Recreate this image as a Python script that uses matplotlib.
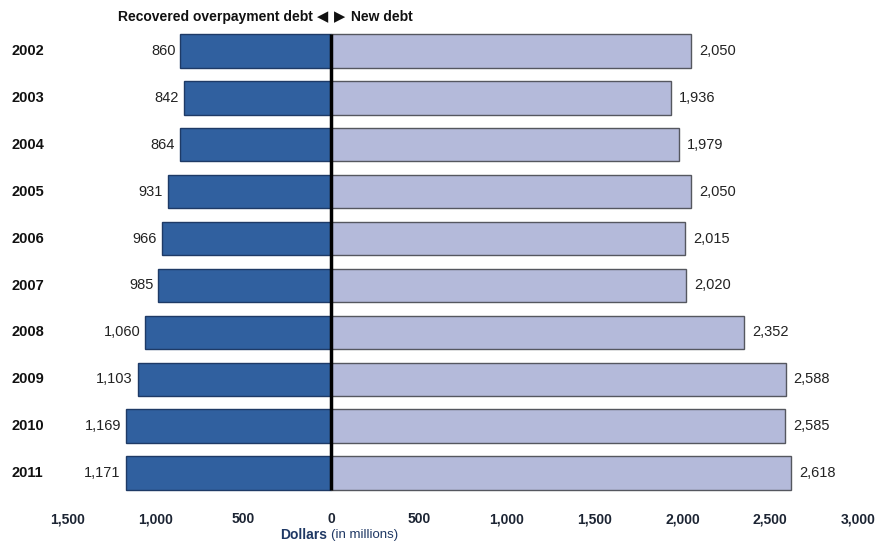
import numpy as np
import matplotlib as mpl
import matplotlib.pyplot as plt

mpl.rcParams['font.family'] = ['Liberation Sans', 'DejaVu Sans']

years = ['2002', '2003', '2004', '2005', '2006', '2007', '2008', '2009', '2010', '2011']
recovered = [860, 842, 864, 931, 966, 985, 1060, 1103, 1169, 1171]
new_debt = [2050, 1936, 1979, 2050, 2015, 2020, 2352, 2588, 2585, 2618]
xticks = [-1500, -1000, -500, 0, 500, 1000, 1500, 2000, 2500, 3000]
xticklabels = ['1,500', '1,000', '500', '0', '500', '1,000', '1,500', '2,000', '2,500', '3,000']

fig = plt.figure(figsize=(8.86, 5.44), dpi=100)
ax = fig.add_axes([68/886, 1-501/544, (858-68)/886, (501-23)/544])

y = np.arange(len(years))
h = 0.71
ax.barh(y, [-v for v in recovered], height=h, color='#30609f', edgecolor='#1e3a66', lw=1)
ax.barh(y, new_debt, height=h, color='#b4bada', edgecolor='#55575f', lw=1)
ax.vlines(0, -0.37, 9.37, color='black', lw=2.5, zorder=5)

for i in range(len(years)):
    ax.text(-recovered[i]-28, y[i], f'{recovered[i]:,}', ha='right', va='center',
            fontsize=10.5, color='#222222')
    ax.text(new_debt[i]+45, y[i], f'{new_debt[i]:,}', ha='left', va='center',
            fontsize=10.5, color='#222222')
    fig.text(12/886, 1-(51+y[i]*46.9)/544, years[i], ha='left', va='center',
             fontsize=10.5, fontweight='bold', color='#111111')

ax.set_xlim(-1500, 3000)
ax.set_ylim(9.6, -0.6)
ax.set_xticks(xticks)
ax.set_xticklabels(xticklabels, fontsize=10, fontweight='bold', color='#1c2433')
ax.set_yticks([])
ax.tick_params(axis='x', length=0, pad=8)
for s in ax.spines.values():
    s.set_visible(False)

hy = 1-17/544
fig.text(313/886, hy, 'Recovered overpayment debt', ha='right', va='center',
         fontsize=10, fontweight='bold', color='#111111')
fig.text(323/886, hy, '\u25c0', ha='center', va='center', fontsize=10.5, color='#111111',
         family='DejaVu Sans')
fig.text(340/886, hy, '\u25b6', ha='center', va='center', fontsize=10.5, color='#111111',
         family='DejaVu Sans')
fig.text(351/886, hy, 'New debt', ha='left', va='center',
         fontsize=10, fontweight='bold', color='#111111')

fig.text(327/886, 1-535/544, 'Dollars', ha='right', va='center',
         fontsize=10, fontweight='bold', color='#1f3864')
fig.text(331/886, 1-535/544, '(in millions)', ha='left', va='center',
         fontsize=9.5, color='#1f3864')

plt.savefig('out.png', dpi=100)
